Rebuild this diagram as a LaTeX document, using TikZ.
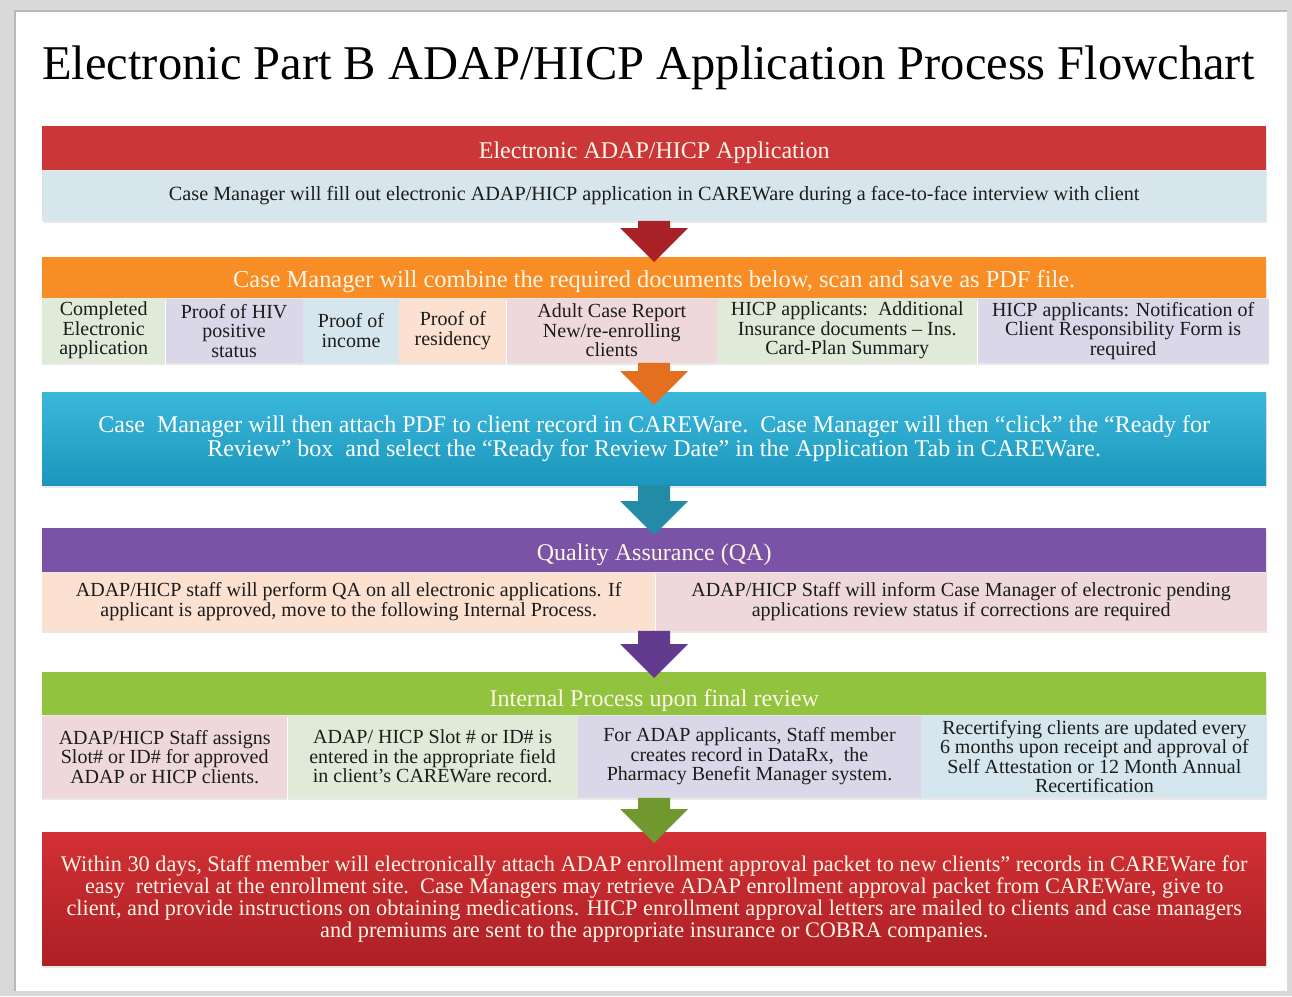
\documentclass[tikz,border=0pt]{standalone}
\usepackage{fontspec}
\setmainfont{Liberation Serif}
\usetikzlibrary{calc,shadows}

\definecolor{appred}{RGB}{203,55,57}
\definecolor{arrred}{RGB}{168,33,38}
\definecolor{paleblue}{RGB}{214,230,236}
\definecolor{orangebar}{RGB}{247,141,36}
\definecolor{arrorange}{RGB}{226,112,30}
\definecolor{cyantop}{RGB}{58,184,218}
\definecolor{cyanbot}{RGB}{28,150,188}
\definecolor{arrteal}{RGB}{34,140,166}
\definecolor{qapurple}{RGB}{122,82,166}
\definecolor{arrpurple}{RGB}{98,58,142}
\definecolor{greenbar}{RGB}{145,195,62}
\definecolor{arrgreen}{RGB}{112,152,46}
\definecolor{redtop}{RGB}{210,48,52}
\definecolor{redbot}{RGB}{172,32,38}
\definecolor{cgreen}{RGB}{223,234,216}
\definecolor{clav}{RGB}{218,215,232}
\definecolor{cblue}{RGB}{214,230,238}
\definecolor{cpeach}{RGB}{252,224,208}
\definecolor{cpink}{RGB}{238,216,219}
\definecolor{txtdark}{RGB}{28,28,28}
\definecolor{palewhite}{RGB}{255,246,232}

\newcommand\hdrfont{\fontsize{24}{24}\selectfont}
\newcommand\cellfont{\fontsize{20}{19.5}\selectfont}

\tikzset{
  bar/.style={anchor=north west, inner sep=0, minimum width=1224, align=center,
    drop shadow={opacity=0.18, shadow xshift=1pt, shadow yshift=-2.5pt}},
  hdrbar/.style={bar, minimum height=#1, text=palewhite, font=\hdrfont,
    text height=21pt, text depth=1pt},
  cell/.style={anchor=north west, inner sep=0, align=center, text=txtdark, font=\cellfont,
    drop shadow={opacity=0.18, shadow xshift=0pt, shadow yshift=-2.5pt}},
  blockarrow/.style={to path={
    let \p1=(\tikztostart), \p2=(\tikztotarget) in
    (\x1-16pt,\y1) -- (\x1-16pt,\y2+34pt) -- (\x1-34pt,\y2+34pt) -- (\x1,\y2)
    -- (\x1+34pt,\y2+34pt) -- (\x1+16pt,\y2+34pt) -- (\x1+16pt,\y1) -- cycle}}
}

\begin{document}
\begin{tikzpicture}[x=1pt,y=-1pt]
  % Frame
  \useasboundingbox (0,0) rectangle (1292,996);
  \fill[gray!30] (0,0) rectangle (1292,996);
  \fill[white] (16,12) rectangle (1287,991);
  \draw[gray!55, line width=2] (15,991) -- (15,11) -- (1287,11);

  % Title
  \node[anchor=west, inner sep=0, font=\fontsize{48.5}{48.5}\selectfont] (title) at (42,68)
    {Electronic Part B ADAP/HICP Application Process Flowchart};

  % Step 1
  \node[hdrbar=44, fill=appred] (app) at (42,126) {Electronic ADAP/HICP Application};
  \node[bar, minimum height=50, fill=paleblue, text=txtdark, font=\fontsize{20.2}{20.2}\selectfont] (fill) at (app.south west)
    {Case Manager will fill out electronic ADAP/HICP application in CAREWare during a face-to-face interview with client};

  % Step 2
  \node[hdrbar=41, fill=orangebar, font=\fontsize{24.4}{24.4}\selectfont] (combine) at (42,257)
    {Case Manager will combine the required documents below, scan and save as PDF file.};
  \node[cell, fill=cgreen, minimum width=123, minimum height=64] (doca) at (combine.south west) {Completed\\Electronic\\application};
  \node[cell, fill=clav, minimum width=137, minimum height=64] (docb) at (doca.north east) {Proof of HIV\\positive\\status};
  \node[cell, fill=cblue, minimum width=96, minimum height=64] (docc) at (docb.north east) {Proof of\\income};
  \node[cell, fill=cpeach, minimum width=107, minimum height=64] (docd) at (docc.north east) {Proof of\\residency};
  \node[cell, fill=cpink, minimum width=210, minimum height=64] (doce) at (docd.north east) {Adult Case Report\\New/re-enrolling\\clients};
  \node[cell, fill=cgreen, minimum width=260, minimum height=64] (docf) at (doce.north east) {HICP applicants:\ \ Additional\\Insurance documents – Ins.\\Card-Plan Summary};
  \node[cell, fill=clav, minimum width=291, minimum height=64] (docg) at (docf.north east) {HICP applicants: Notification of\\Client Responsibility Form is\\required};

  % Step 3
  \node[bar, minimum height=93, top color=cyantop, bottom color=cyanbot, text=white, font=\fontsize{24}{24}\selectfont] (attach) at (42,392)
    {Case\ \ Manager will then attach PDF to client record in CAREWare.\ \ Case Manager will then “click” the “Ready for\\
     Review” box\ \ and select the “Ready for Review Date” in the Application Tab in CAREWare.};

  % Step 4
  \node[hdrbar=44, fill=qapurple] (qa) at (42,528) {Quality Assurance (QA)};
  \node[cell, fill=cpeach, minimum width=613, minimum height=58] (qaok) at (qa.south west)
    {ADAP/HICP staff will perform QA on all electronic applications. If\\applicant is approved, move to the following Internal Process.};
  \node[cell, fill=cpink, minimum width=611, minimum height=58] (qafix) at (qaok.north east)
    {ADAP/HICP Staff will inform Case Manager of electronic pending\\applications review status if corrections are required};

  % Step 5
  \node[hdrbar=43, fill=greenbar, text height=27pt] (internal) at (42,672) {Internal Process upon final review};
  \node[cell, fill=cpink, minimum width=245, minimum height=82] (inta) at (internal.south west)
    {ADAP/HICP Staff assigns\\Slot\# or ID\# for approved\\ADAP or HICP clients.};
  \node[cell, fill=cgreen, minimum width=290, minimum height=82] (intb) at (inta.north east)
    {ADAP/ HICP Slot \# or ID\# is\\entered in the appropriate field\\in client’s CAREWare record.};
  \node[cell, fill=clav, minimum width=343, minimum height=82] (intc) at (intb.north east)
    {For ADAP applicants, Staff member\\creates record in DataRx,\ \ the\\Pharmacy Benefit Manager system.};
  \node[cell, fill=cblue, minimum width=346, minimum height=82] (intd) at (intc.north east)
    {Recertifying clients are updated every\\6 months upon receipt and approval of\\Self Attestation or 12 Month Annual\\Recertification};

  % Step 6
  \node[bar, minimum height=133, top color=redtop, bottom color=redbot, text=palewhite, font=\fontsize{22.3}{22}\selectfont] (final) at (42,832)
    {Within 30 days, Staff member will electronically attach ADAP enrollment approval packet to new clients” records in CAREWare for\\
     easy\ \ retrieval at the enrollment site.\ \ Case Managers may retrieve ADAP enrollment approval packet from CAREWare, give to\\
     client, and provide instructions on obtaining medications. HICP enrollment approval letters are mailed to clients and case managers\\
     and premiums are sent to the appropriate insurance or COBRA companies.};

  % Draw arrows
  \fill[arrred] (fill.south) to[blockarrow] ([yshift=-5pt]combine.north);
  \fill[arrorange] (combine.south |- doca.south) to[blockarrow] ([yshift=-13pt]attach.north);
  \fill[arrteal] (attach.south) to[blockarrow] ([yshift=-7pt]qa.north);
  \fill[arrpurple] (qa.south |- qaok.south) to[blockarrow] ([yshift=-6pt]internal.north);
  \fill[arrgreen] (internal.south |- inta.south) to[blockarrow] ([yshift=-11pt]final.north);
\end{tikzpicture}
\end{document}
